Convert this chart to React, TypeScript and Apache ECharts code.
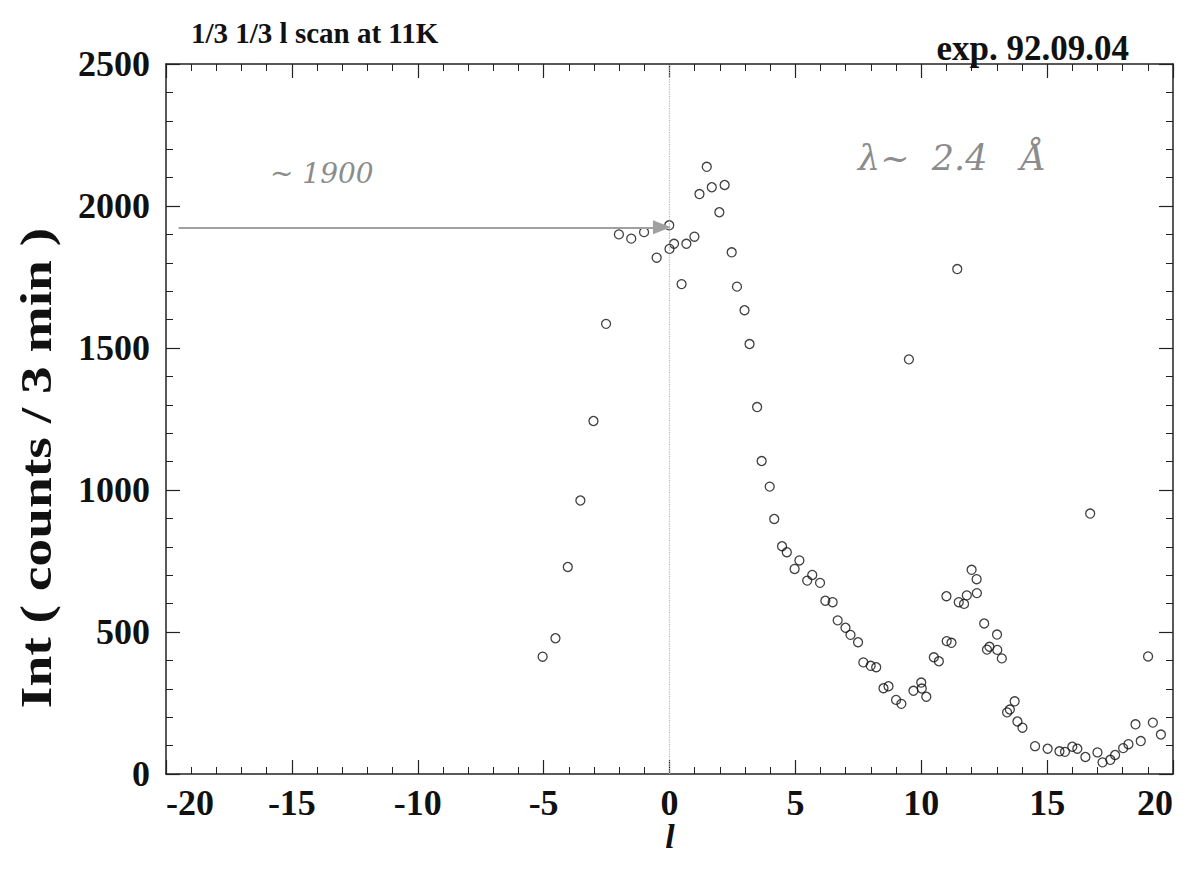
import React, { useEffect, useRef } from "react";
import * as echarts from "echarts";

// l values (r.l.u.) and intensities (counts / 3 min)
const lValues = [
  -5.04, -4.53, -4.04, -3.54, -3.02, -2.52, -2.01, -1.52, -1.01, -0.51,
  -0.01, 0.0, 0.18, 0.48, 0.67, 0.99, 1.19, 1.48, 1.68, 1.98,
  2.19, 2.47, 2.68, 2.98, 3.18, 3.48, 3.66, 3.98, 4.16, 4.47,
  4.66, 4.97, 5.16, 5.47, 5.67, 5.98, 6.19, 6.48, 6.68, 6.99,
  7.19, 7.49, 7.7, 7.99, 8.21, 8.5, 8.7, 9.0, 9.21, 9.51,
  9.69, 10.0, 10.02, 10.2, 10.5, 10.7, 11.0, 11.01, 11.2, 11.43,
  11.49, 11.7, 11.81, 12.0, 12.2, 12.21, 12.5, 12.61, 12.71, 13.01,
  13.02, 13.2, 13.41, 13.52, 13.71, 13.82, 14.02, 14.52, 15.02, 15.49,
  15.71, 16.0, 16.2, 16.52, 16.71, 17.0, 17.2, 17.51, 17.7, 18.02,
  18.23, 18.51, 18.72, 19.01, 19.2, 19.52,
];
const counts = [
  413, 478, 729, 963, 1243, 1585, 1900, 1885, 1908, 1818,
  1932, 1849, 1867, 1725, 1867, 1892, 2042, 2138, 2066, 1978,
  2074, 1837, 1716, 1633, 1514, 1292, 1102, 1012, 898, 802,
  781, 722, 752, 681, 701, 673, 610, 605, 541, 515,
  490, 464, 393, 381, 376, 302, 309, 261, 247, 1460,
  293, 322, 301, 272, 411, 397, 626, 468, 462, 1778,
  605, 599, 629, 719, 686, 637, 530, 438, 448, 491,
  437, 407, 217, 227, 256, 185, 163, 98, 89, 80,
  78, 96, 89, 60, 917, 76, 41, 50, 67, 91,
  105, 175, 116, 414, 181, 139,
];

// hand-drawn arrow marking the ~1900 level
const arrowStart = [-19.5, 1925];
const arrowEnd = [-0.3, 1925];

const titleText = "1/3 1/3 l scan at 11K";
const expText = "exp. 92.09.04";
const yName = "Int ( counts / 3 min )";
const xName = "l";
const noteLevel = "~ 1900";
const noteLambda = "λ~  2.4   Å";

const SERIF = "'Liberation Serif', 'DejaVu Serif', serif";

export default function App() {
  const ref = useRef<HTMLDivElement>(null);
  useEffect(() => {
    if (!ref.current) return;
    const chart = echarts.init(ref.current, undefined, { renderer: "svg" });
    const points = lValues.map((l, i) => [l, counts[i]]);
    const axisLine = { show: true, onZero: false, lineStyle: { color: "#222", width: 1.5 } };
    const tick = { show: true, inside: true, length: 14, lineStyle: { color: "#222", width: 1.2 } };
    const minor = { show: true, splitNumber: 5, length: 7, lineStyle: { color: "#222", width: 1 } };
    const labelStyle = {
      fontFamily: SERIF,
      fontWeight: "bold" as const,
      fontSize: 36,
      lineHeight: 26,
      color: "#111",
      formatter: (v: number) => String(v),
    };
    chart.setOption({
      animation: false,
      backgroundColor: "#fff",
      grid: { left: 158, top: 56, width: 1007, height: 710, containLabel: false, outerBoundsMode: "none" },
      title: [
        { text: titleText, left: 178, top: 5, textStyle: { fontFamily: SERIF, fontWeight: "bold", fontSize: 29, color: "#111" } },
        { text: expText, right: 56, top: 18, textStyle: { fontFamily: SERIF, fontWeight: "bold", fontSize: 35, color: "#111" } },
      ],
      xAxis: [
        {
          type: "value", min: -20, max: 20, interval: 5, position: "bottom",
          axisLine, axisTick: tick, minorTick: minor, splitLine: { show: false },
          axisLabel: { ...labelStyle, margin: 16, alignMinLabel: "left", alignMaxLabel: "right" },
        },
        {
          type: "value", min: -20, max: 20, interval: 5, position: "top",
          axisLine, axisTick: tick, minorTick: minor, splitLine: { show: false },
          axisLabel: { show: false },
        },
      ],
      yAxis: [
        {
          type: "value", min: 0, max: 2500, interval: 500, position: "left",
          axisLine, axisTick: tick, minorTick: minor, splitLine: { show: false },
          axisLabel: { ...labelStyle, margin: 16 },
        },
        {
          type: "value", min: 0, max: 2500, interval: 500, position: "right",
          axisLine, axisTick: tick, minorTick: minor, splitLine: { show: false },
          axisLabel: { show: false },
        },
      ],
      series: [
        {
          type: "scatter",
          data: [],
          silent: true,
          markLine: {
            silent: true,
            symbol: ["none", "none"],
            label: { show: false },
            lineStyle: { color: "#b5b5b5", type: "dotted", width: 1.2 },
            data: [{ xAxis: 0 }],
          },
        },
        {
          type: "scatter",
          data: [],
          silent: true,
          markLine: {
            silent: true,
            symbol: ["none", "triangle"],
            symbolSize: [14, 18],
            label: { show: false },
            lineStyle: { color: "#a0a0a0", type: "solid", width: 2 },
            data: [[{ coord: arrowStart }, { coord: arrowEnd }]],
          },
        },
        {
          type: "scatter",
          data: points,
          symbol: "circle",
          symbolSize: 9,
          itemStyle: { color: "rgba(0,0,0,0)", borderColor: "#111", borderWidth: 1.3 },
        },
      ],
      graphic: [
        {
          type: "text", x: 28, y: 460, rotation: Math.PI / 2, scaleX: 1.26,
          style: {
            text: yName, fill: "#111", align: "center", verticalAlign: "middle",
            font: "bold 44px 'Liberation Serif', 'DejaVu Serif', serif",
          },
        },
        {
          type: "text", x: 662, y: 828,
          style: {
            text: xName, fill: "#111", align: "center", verticalAlign: "middle",
            lineHeight: 28,
            font: "italic bold 34px 'Liberation Serif', 'DejaVu Serif', serif",
          },
        },
        {
          type: "text", left: 262, top: 151,
          style: { text: noteLevel, fill: "#8c8c8c", font: "italic 28px 'DejaVu Serif', serif" },
        },
        {
          type: "text", left: 850, top: 132,
          style: { text: noteLambda, fill: "#8c8c8c", font: "italic 35px 'DejaVu Serif', serif" },
        },
      ],
    });
    return () => chart.dispose();
  }, []);
  return <div ref={ref} style={{ width: 1182, height: 853 }} />;
}
